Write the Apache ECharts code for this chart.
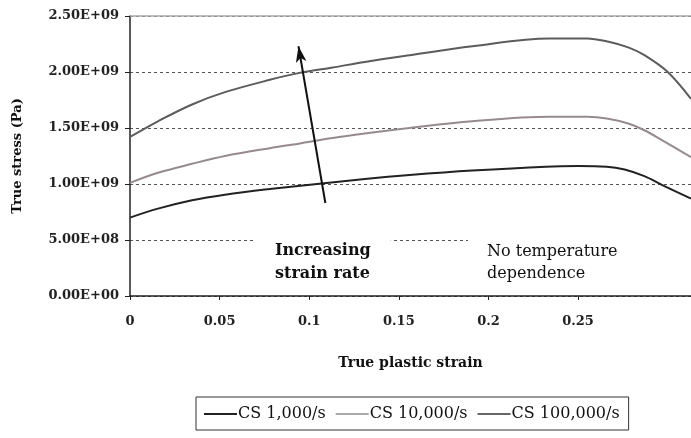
<!DOCTYPE html>
<html><head><meta charset="utf-8">
<script src="https://cdn.jsdelivr.net/npm/echarts@6/dist/echarts.min.js"></script>
<style>html,body{margin:0;padding:0;background:#fff}#c{width:691px;height:438px}</style>
</head><body><div id="c"></div>
<script>
// True plastic strain (x) and true stress in Pa (y)
const strain1k   = [0, 0.0156, 0.0346, 0.053, 0.078, 0.107, 0.131, 0.156, 0.191, 0.232, 0.25, 0.266, 0.276, 0.287, 0.297, 0.313];
const stress1k   = [0.70e9, 0.78e9, 0.855e9, 0.905e9, 0.955e9, 1.005e9, 1.045e9, 1.08e9, 1.12e9, 1.155e9, 1.16e9, 1.155e9, 1.13e9, 1.07e9, 0.99e9, 0.87e9];
const strain10k  = [0, 0.0156, 0.0346, 0.053, 0.078, 0.094, 0.113, 0.131, 0.156, 0.191, 0.234, 0.255, 0.266, 0.278, 0.287, 0.297, 0.313];
const stress10k  = [1.01e9, 1.10e9, 1.18e9, 1.25e9, 1.32e9, 1.36e9, 1.41e9, 1.45e9, 1.50e9, 1.56e9, 1.60e9, 1.60e9, 1.585e9, 1.54e9, 1.48e9, 1.39e9, 1.24e9];
const strain100k = [0, 0.0156, 0.0346, 0.053, 0.078, 0.094, 0.113, 0.131, 0.156, 0.191, 0.234, 0.255, 0.267, 0.278, 0.287, 0.30, 0.313];
const stress100k = [1.42e9, 1.56e9, 1.71e9, 1.82e9, 1.93e9, 1.99e9, 2.04e9, 2.09e9, 2.15e9, 2.23e9, 2.30e9, 2.30e9, 2.27e9, 2.22e9, 2.15e9, 2.00e9, 1.76e9];
const seriesNames = ['CS 1,000/s', 'CS 10,000/s', 'CS 100,000/s'];
const xTicks = [0, 0.05, 0.1, 0.15, 0.2, 0.25];
const arrowStart = [0.109, 0.83e9];
const arrowEnd = [0.094, 2.23e9];

function pairs(xs, ys) { return xs.map((x, i) => [x, ys[i]]); }
function sci(v) {
  if (v === 0) return '0.00E+00';
  const e = Math.floor(Math.log10(v));
  const m = v / Math.pow(10, e);
  return m.toFixed(2) + 'E+' + String(e).padStart(2, '0');
}
const serif = '"DejaVu Serif", "Liberation Serif", serif';
const chart = echarts.init(document.getElementById('c'));
chart.setOption({
  animation: false,
  backgroundColor: '#fff',
  grid: { left: 130, right: 0, top: 16, bottom: 142 },
  xAxis: [{
    type: 'value', min: 0, max: 0.313, interval: 0.05,
    name: 'True plastic strain', nameLocation: 'middle', nameGap: 60,
    nameTextStyle: { fontFamily: serif, fontSize: 14, fontWeight: 'bold', color: '#111' },
    axisLine: { lineStyle: { color: '#222', width: 1.5 } },
    axisTick: { customValues: xTicks, length: 4, lineStyle: { color: '#222' } },
    axisLabel: { customValues: xTicks, fontFamily: serif, fontSize: 13, fontWeight: 'bold', color: '#222', margin: 19 },
    splitLine: { show: false }
  }, {
    type: 'value', position: 'top', min: 0, max: 0.313,
    axisLine: { show: true, lineStyle: { color: '#aaa', width: 1.5 } },
    axisTick: { show: false }, axisLabel: { show: false }, splitLine: { show: false }
  }],
  yAxis: {
    type: 'value', min: 0, max: 2.5e9, interval: 5e8,
    name: 'True stress (Pa)', nameLocation: 'middle', nameRotate: 90, nameGap: 106,
    nameTextStyle: { fontFamily: serif, fontSize: 13, fontWeight: 'bold', color: '#111' },
    axisLine: { show: true, lineStyle: { color: '#222', width: 1.5 } },
    axisTick: { show: true, length: 5, lineStyle: { color: '#222' } },
    axisLabel: { formatter: sci, fontFamily: serif, fontSize: 13, fontWeight: 'bold', color: '#222', margin: 11 },
    splitLine: { show: true, lineStyle: { color: '#555', type: [3, 3], width: 1 } }
  },
  legend: {
    left: 196, top: 397, orient: 'horizontal',
    icon: 'rect', itemWidth: 33, itemHeight: 2, itemGap: 10,
    borderColor: '#333', borderWidth: 1, padding: [9, 9, 8, 8],
    textStyle: { fontFamily: serif, fontSize: 16, color: '#111', padding: [0, 0, 0, -4] },
    data: seriesNames
  },
  series: [
    { name: seriesNames[0], type: 'line', smooth: 0.35, symbol: 'none', data: pairs(strain1k, stress1k),
      lineStyle: { color: '#222', width: 2 }, itemStyle: { color: '#222' },
      markLine: { silent: true, symbol: ['none', 'arrow'], symbolSize: [8, 16], label: { show: false },
        lineStyle: { color: '#111', width: 2, type: 'solid' },
        data: [[{ coord: arrowStart }, { coord: arrowEnd }]] } },
    { name: seriesNames[1], type: 'line', smooth: 0.35, symbol: 'none', data: pairs(strain10k, stress10k),
      lineStyle: { color: '#978a8f', width: 2 }, itemStyle: { color: '#aaa' } },
    { name: seriesNames[2], type: 'line', smooth: 0.35, symbol: 'none', data: pairs(strain100k, stress100k),
      lineStyle: { color: '#5c5c5c', width: 2 }, itemStyle: { color: '#666' } }
  ],
  graphic: [
    { type: 'text', left: 255, top: 235, z: 10,
      style: { text: 'Increasing\nstrain rate', font: 'bold 16px ' + serif, fill: '#111', lineHeight: 23,
        backgroundColor: '#fff', padding: [4, 20, 2, 20] } },
    { type: 'text', left: 468, top: 237, z: 10,
      style: { text: 'No temperature\ndependence', font: '16px ' + serif, fill: '#111', lineHeight: 22,
        backgroundColor: '#fff', padding: [4, 80, 2, 19] } }
  ]
});
</script></body></html>
